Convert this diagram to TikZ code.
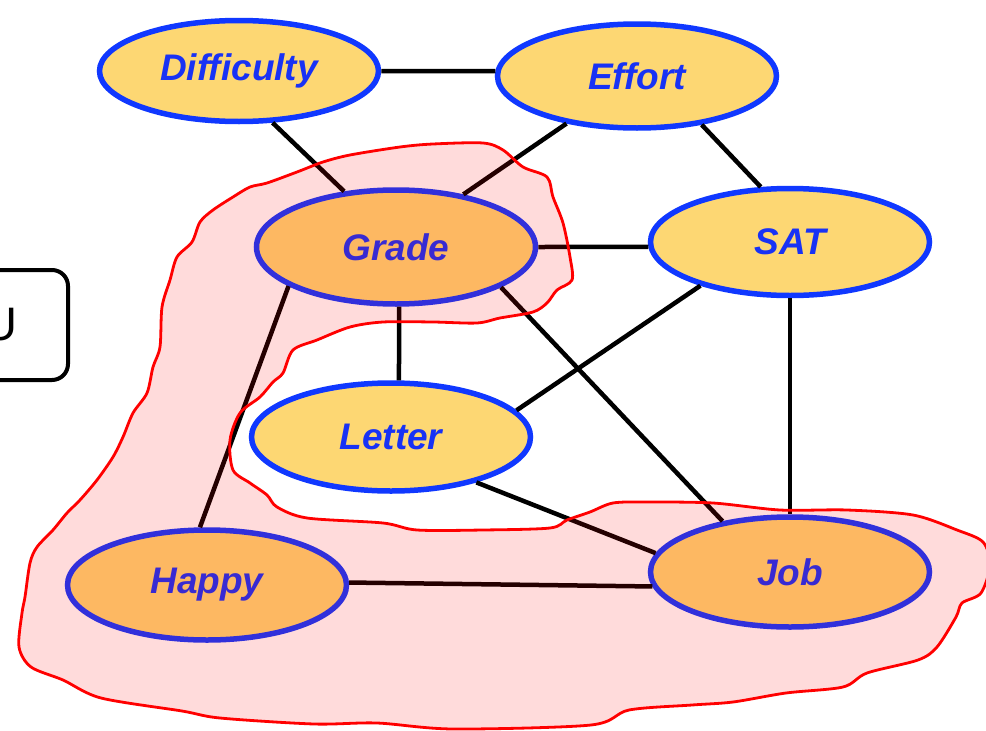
\documentclass[tikz,border=0pt]{standalone}
\usepackage{fontspec}
\setmainfont{Liberation Sans}
\definecolor{nodeblue}{RGB}{16, 56, 255}
\definecolor{textblue}{RGB}{24, 50, 245}
\definecolor{nodefill}{RGB}{253, 215, 115}
\usetikzlibrary{shapes.geometric}

\begin{document}
\begin{tikzpicture}[x=1pt, y=-1pt,
        var/.style={ellipse, draw=nodeblue, line width=5.5, fill=nodefill, inner sep=0pt,
            minimum width=279, text=textblue, font=\fontsize{37}{40}\selectfont\bfseries\itshape},
        link/.style={line width=4.5, black},
        ubox/.style={draw, line width=4, rounded corners=16, minimum width=136, minimum height=110,
            font=\fontsize{47}{50}\selectfont},
        blob/.style={draw=red, line width=2.8, fill=red, fill opacity=0.14, draw opacity=1}
    ]
        \useasboundingbox (0,0) rectangle (986,731);

        % box cut off at the left edge
        \node[ubox] (ubox) at (0,325) {U};

        % variables
        \node[var, minimum height=101] (diff)   at (239, 71) {Difficulty};
        \node[var, minimum height=104] (effort) at (637, 76) {Effort};
        \node[var, minimum height=114] (grade)  at (396,247) {Grade};
        \node[var, minimum height=107] (sat)    at (790,242) {SAT};
        \node[var, minimum height=108] (letter) at (391,437) {Letter};
        \node[var, minimum height=110] (happy)  at (207,585) {Happy};
        \node[var, minimum height=110] (job)    at (790,572) {Job};

        % links
        \draw[link] (diff.0) -- (effort.178);
        \draw[link] (diff.303) -- (grade.133);
        \draw[link] (effort.214) -- (grade.38);
        \draw[link] (effort.323) -- (sat.118);
        \draw[link] (grade.0) -- (sat.182);
        \draw[link] (grade.273) -- (letter.82);
        \draw[link] (grade.200) -- (happy.97);
        \draw[link] (grade.339) -- (job.143);
        \draw[link] (sat.206) -- (letter.12);
        \draw[link] (sat.270) -- (job.90);
        \draw[link] (letter.332) -- (job.172);
        \draw[link] (happy.1) -- (job.186);

        % hand-drawn region over Grade, Happy and Job
        \draw[blob] plot[smooth cycle, tension=0.5] coordinates {
            (250,187) (267,183) (297,172) (323,162) (350,155) (400,147) (433,144) (483,143)
            (503,150) (523,167) (547,177) (553,197) (563,223) (570,257) (572,280) (557,290)
            (547,303) (533,312) (500,318) (477,323) (433,322) (383,322) (350,327) (317,340)
            (293,350) (283,373) (273,382) (260,397) (240,413) (230,440) (233,470) (250,483)
            (267,495) (277,507) (307,518) (383,523) (417,530) (483,530) (550,528) (567,520)
            (590,512) (613,503) (647,502) (713,503) (780,510) (847,510) (913,515) (957,530)
            (983,542) (990,565) (981,593) (962,603) (956,617) (937,647) (918,660) (867,673)
            (843,687) (786,693) (733,702) (692,705) (629,710) (591,725) (453,729) (377,723)
            (314,724) (220,718) (182,711) (101,698) (63,680) (31,667) (19,647) (22,613)
            (25,597) (30,563) (37,547) (53,530) (67,513) (80,500) (97,480) (113,457)
            (123,437) (133,413) (147,393) (153,367) (160,347) (162,307) (170,280) (177,257)
            (192,242) (200,222) (213,210) (233,197)};
    \end{tikzpicture}
\end{document}
